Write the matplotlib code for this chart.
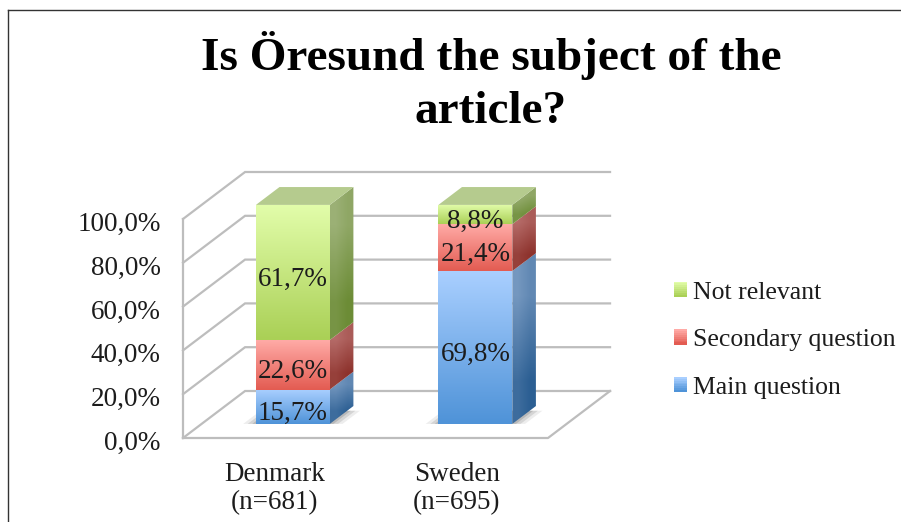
import numpy as np
import matplotlib
matplotlib.use('Agg')
import matplotlib.pyplot as plt
from matplotlib.colors import LinearSegmentedColormap, to_rgb
from matplotlib.legend_handler import HandlerPatch
from matplotlib.lines import Line2D
from matplotlib.patches import Patch, Polygon, Rectangle
from matplotlib.transforms import ScaledTranslation

plt.rcParams['font.family'] = ['Liberation Serif', 'DejaVu Serif']

countries = ['Denmark\n(n=681)', 'Sweden\n(n=695)']
series = ['Main question', 'Secondary question', 'Not relevant']
main_q = [15.7, 69.8]
secondary_q = [22.6, 21.4]
not_rel = [61.7, 8.8]
yticks = [0, 20, 40, 60, 80, 100]

# top/bottom colours of the front faces, then the side faces
front_cols = [('#a9cfff', '#4f93d8'), ('#ffaaa6', '#e35c52'), ('#e2fdaa', '#aad056')]
side_cols = [('#7497bf', '#2c5f93'), ('#b56b68', '#8d322c'), ('#9bb075', '#6c8c36')]
top_col = '#b5cb8e'

# depth of the floor, in data units
DX = 0.34
DY = 21.46
GRID = '#bdbdbd'
BAR_W = 0.405
D0 = 0.3
D1 = 0.68


def proj(x, y, d):
    return (x + d * DX, y + d * DY)


def grad_poly(ax, pts, c1, c2, diag=False):
    cm = LinearSegmentedColormap.from_list('g', [c1, c2])
    if diag:
        arr = np.array([[0.0, 0.25], [0.75, 1.0]])
    else:
        arr = np.linspace(0, 1, 64).reshape(-1, 1)
    xs = [p[0] for p in pts]
    ys = [p[1] for p in pts]
    im = ax.imshow(arr, cmap=cm, vmin=0, vmax=1, aspect='auto', origin='upper',
                   interpolation='bilinear', zorder=5,
                   extent=(min(xs), max(xs), min(ys), max(ys)))
    im.set_clip_path(Polygon(pts, transform=ax.transData))
    im.set_clip_box(fig.bbox)


class GradHandler(HandlerPatch):
    def create_artists(self, legend, orig, xd, yd, w, h, fontsize, trans):
        c1, c2 = orig.grad
        out = []
        for i in range(8):
            t = i / 7
            col = tuple((1 - t) * a + t * b for a, b in zip(to_rgb(c1), to_rgb(c2)))
            out.append(Rectangle((-xd, -yd + h * (7 - i) / 8), w, h / 8 + 0.3, fc=col,
                                 ec='none', transform=trans))
        return out


fig = plt.figure(figsize=(9.01, 5.22), dpi=100, facecolor='white')
ax = fig.add_axes([183 / 901, (522 - 438) / 522, 365 / 901, 219 / 522])
ax.patch.set_visible(False)
for s in ax.spines.values():
    s.set_visible(False)

# walls and floor
for v in yticks:
    p0 = proj(0, v, 0)
    p1 = proj(0, v, 1)
    p2 = proj(2, v, 1)
    ax.plot([p0[0], p1[0], p2[0]], [p0[1], p1[1], p2[1]], color=GRID, lw=1.6,
            clip_on=False, zorder=1, solid_joinstyle='miter')
f = [proj(0, 0, 0), proj(2, 0, 0), proj(2, 0, 1)]
ax.plot([p[0] for p in f], [p[1] for p in f], color=GRID, lw=1.6, clip_on=False, zorder=1)
ax.plot([0, 0], [0, 100], color=GRID, lw=1.6, clip_on=False, zorder=1)

# bars
for i, name in enumerate(countries):
    x0 = i + 0.5 - BAR_W / 2
    x1 = x0 + BAR_W
    # soft shadow on the floor
    for grow, a in [(0.07, 0.10), (0.045, 0.16), (0.02, 0.22)]:
        ax.add_patch(Polygon([proj(x0 - grow, 0, D0), proj(x1 + grow, 0, D0),
                              proj(x1 + grow, 0, D1 - 0.1), proj(x0 - grow, 0, D1 - 0.1)],
                             fc='#555555', ec='none', alpha=a, zorder=2, clip_on=False))
    base = 0
    vals = [main_q[i], secondary_q[i], not_rel[i]]
    for k, v in enumerate(vals):
        top = base + v
        front = [proj(x0, base, D0), proj(x1, base, D0), proj(x1, top, D0), proj(x0, top, D0)]
        side = [proj(x1, base, D0), proj(x1, base, D1), proj(x1, top, D1), proj(x1, top, D0)]
        grad_poly(ax, front, *front_cols[k])
        grad_poly(ax, side, *side_cols[k], diag=True)
        cx, cy = proj(i + 0.5, base + v / 2, D0)
        # labels sit a bit low in their segments
        ax.annotate(f'{v:.1f}%'.replace('.', ','), (cx, cy), xytext=(0, -5),
                    textcoords='offset points', ha='center', va='center',
                    fontsize=19.5, color='#1c1c1c', zorder=8, annotation_clip=False)
        base = top
    roof = [proj(x0, base, D0), proj(x1, base, D0), proj(x1, base, D1), proj(x0, base, D1)]
    ax.add_patch(Polygon(roof, fc=top_col, ec='none', zorder=6, clip_on=False))

ax.set_xlim(0, 2)
ax.set_ylim(0, 100)
ax.set_yticks(yticks, [f'{v:.1f}%'.replace('.', ',') for v in yticks])
ax.set_xticks([0.5, 1.5], countries)
ax.tick_params(axis='y', length=0, pad=16, labelsize=19.5, labelcolor='#1c1c1c')
ax.tick_params(axis='x', length=0, pad=17, labelsize=19.5, labelcolor='#1c1c1c')
for t in ax.get_xticklabels():
    t.set_linespacing(1.2)
# tick labels sit slightly under their grid lines
shift = ScaledTranslation(0, -2.5 / 100, fig.dpi_scale_trans)
for t in ax.get_yticklabels():
    t.set_transform(t.get_transform() + shift)

handles = []
for k in [2, 1, 0]:
    h = Patch(label=series[k])
    h.grad = front_cols[k]
    handles.append(h)
ax.legend(handles=handles, handler_map={Patch: GradHandler()}, loc='lower left',
          bbox_to_anchor=(674 / 901, (522 - 399) / 522), bbox_transform=fig.transFigure,
          frameon=False, fontsize=18.5, labelspacing=1.0, handlelength=0.52,
          handleheight=0.52, handletextpad=0.22, borderpad=0, borderaxespad=0,
          labelcolor='#1c1c1c')

fig.text(491 / 901, 1 - 82 / 522, 'Is Öresund the subject of the\narticle?', ha='center',
         va='center', fontsize=34, fontweight='bold', color='black', linespacing=1.32)

# page frame
fig.add_artist(Line2D([8 / 901, 1], [1 - 10 / 522, 1 - 10 / 522], color='#333333', lw=1))
fig.add_artist(Line2D([8 / 901, 8 / 901], [0, 1 - 10 / 522], color='#333333', lw=1))

fig.savefig('out.png', dpi=100, facecolor='white')
